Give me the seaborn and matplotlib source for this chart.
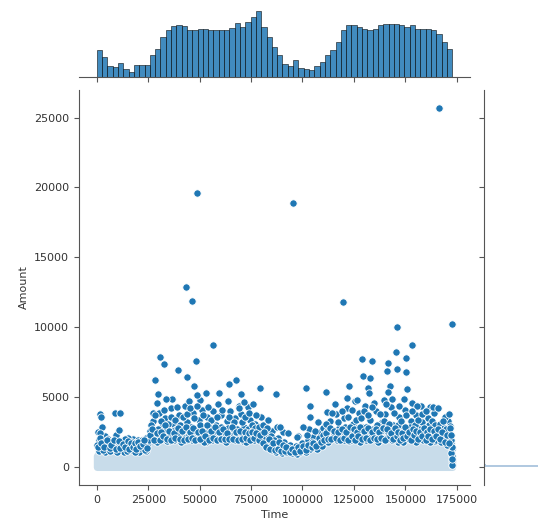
import pandas as pd
import matplotlib
matplotlib.use("Agg")
import matplotlib.pyplot as plt
import seaborn as sns

# =====================================================
# DATA
# =====================================================

# marginal histogram of Time: 67 bins between 0 and 172792 s
time_counts = [
    3280, 2400, 1280, 1200, 1720, 1000, 600, 1400, 1400, 1480,
    2600, 3400, 4800, 5680, 6080, 6240, 6160, 5680, 5680, 5800,
    5800, 5680, 5600, 5600, 5680, 5840, 6480, 6000, 6600, 7200,
    7880, 6000, 4800, 3600, 2600, 1600, 1320, 2000, 1080, 1000,
    880, 1280, 1800, 2600, 3200, 4200, 5600, 6280, 6200, 6000,
    5800, 5600, 5800, 6200, 6320, 6320, 6320, 6200, 6000, 6200,
    5800, 5800, 5800, 5680, 5200, 4200, 3400,
]
time_max = 172792

# marginal histogram of Amount (almost everything in the first bin)
amount_bin_left = [0, 120, 240, 360]
amount_counts = [27000, 900, 500, 300]

# dense lower part of the cloud (upper edge of the packed markers)
base_time = [0, 1500, 5000, 10000, 15000, 20000, 24000, 27000, 30000,
             40000, 50000, 60000, 70000, 78000, 82000, 86000, 92000,
             98000, 104000, 108000, 112000, 120000, 130000, 140000,
             150000, 160000, 166000, 170000, 172000, 172792]
base_amount = [800, 1100, 900, 1000, 900, 850, 1050, 1400, 1600,
               1650, 1700, 1650, 1600, 1550, 1250, 1000, 850,
               800, 1000, 1250, 1550, 1600, 1650, 1600,
               1650, 1550, 1450, 1250, 1000, 500]
# looser zone on top of it, where single markers start to show
loose_amount = [1300, 1700, 1400, 1500, 1400, 1350, 1600, 2000, 2300,
                2400, 2450, 2400, 2300, 2200, 1800, 1500, 1300,
                1250, 1500, 1800, 2200, 2300, 2400, 2350,
                2400, 2300, 2100, 1800, 1500, 900]

# individual transactions (time in s, amount)
point_time = [
    # 0 - 25000
    1200, 2500, 3800, 5200, 6100, 7400, 8900, 10300, 11800, 12600,
    14100, 15500, 16900, 18200, 19700, 21300, 22800, 24100, 600, 9500,
    17800, 4200, 13300, 20500, 23700,
    1500, 1900, 2400, 1500, 8800, 11200, 10700, 15100, 19900, 27200,
    300, 900, 1700, 2900, 3300, 4600, 5700, 6600, 7900, 8300,
    9900, 11000, 12200, 13800, 14700, 16200, 17300, 18800, 19300, 20900,
    21900, 23300, 24600,
    # 25000 - 80000
    26000, 27500, 28800, 30200, 31500, 33000, 34400, 35900, 37100, 38600,
    40000, 41300, 42700, 44100, 45500, 46800, 48200, 49600, 51000, 52300,
    53700, 55100, 56500, 57800, 59200, 60600, 62000, 63300, 64700, 66100,
    67400, 68800, 70200, 71500, 72900, 74300, 75700, 77000, 78400, 79600,
    27000, 30800, 34900, 39200, 43500, 47700, 52900, 57300, 61400, 65800,
    70900, 75100, 29500, 36800, 44800, 50300, 58700, 63900, 69300, 73600,
    30600, 32600, 48100, 39400, 43800, 28200, 67600, 64200, 79200, 47200,
    48600, 29700, 33500, 59300, 53000, 70000, 71500, 75800, 56400, 43300,
    46200, 48600,
    25400, 26400, 27800, 28300, 29100, 29900, 31000, 31900, 32500, 33400,
    33900, 34800, 35400, 36300, 36900, 37700, 38200, 39000, 39700, 40600,
    41000, 41800, 42300, 43000, 43900, 44600, 45100, 45900, 46400, 47300,
    48000, 48900, 49300, 50100, 50700, 51600, 52000, 53100, 54200, 54700,
    55600, 56100, 57000, 58300, 59700, 60200, 61000, 61800, 62600, 63700,
    64300, 65200, 66600, 67100, 68100, 69000, 69700, 70600, 71200, 72100,
    72500, 73300, 74000, 74800, 75300, 76200, 76700, 77600, 78100, 79100,
    79900,
    # 80000 - 110000
    81000, 82500, 84000, 85400, 86900, 88300, 89700, 91200, 92600, 94000,
    95500, 96900, 98300, 99800, 101200, 102600, 104000, 105500, 106900, 108300,
    109700, 83200, 87600, 90500, 97600, 103300, 107500,
    87000, 101600, 111300, 89000, 92900, 97200, 100100, 105000, 108400, 103500,
    103500, 111800, 95300,
    80300, 81700, 82900, 83700, 84600, 85000, 86100, 87300, 88900, 90000,
    90900, 91800, 93300, 94700, 96200, 97200, 99000, 100500, 101800, 102200,
    103700, 104800, 105900, 106300, 107100, 108800, 109300, 110200,
    # 110000 - 165000
    112000, 113400, 114800, 116200, 117600, 119000, 120400, 121800, 123200, 124600,
    126000, 127400, 128800, 130200, 131600, 133000, 134400, 135800, 137200, 138600,
    140000, 141400, 142800, 144200, 145600, 147000, 148400, 149800, 151200, 152600,
    154000, 155400, 156800, 158200, 159600, 161000, 162400, 163800,
    113000, 118000, 122700, 127000, 132300, 136800, 141900, 146500, 150700, 155800,
    160300, 164200,
    115600, 125300, 134900, 139400, 143500, 153300, 157700, 161800,
    122500, 128800, 133700, 129300, 132700, 145400, 150200, 145800, 150200, 141000,
    141500, 153100, 150700, 155600, 131700, 132200, 121500, 126400, 142400, 141500,
    149200, 119600, 145800, 166300,
    110700, 111600, 112600, 113800, 114300, 115100, 116700, 117100, 118500, 119400,
    120000, 120900, 121300, 122200, 123700, 124100, 125000, 125800, 126700, 127900,
    128300, 129200, 129800, 130700, 131100, 132000, 133500, 134000, 135200, 136100,
    136500, 137700, 138100, 139000, 139800, 140500, 141000, 142000, 143300, 143900,
    144700, 145200, 146200, 146800, 147600, 148000, 148900, 149400, 150300, 151700,
    152200, 153000, 153700, 154500, 155000, 156300, 157200, 157900, 158700, 159100,
    160000, 160700, 161400, 162000, 162900, 163400, 164600, 165100,
    # 165000 - end
    165500, 166700, 167800, 168900, 170000, 171100, 172000, 172500, 172700, 172600,
    172750, 172400, 170700, 169400,
    163300, 165800, 171100, 171600, 172600, 172700, 172600,
    166200, 167300, 168300, 169000, 169800, 170400, 171500, 171900, 172300, 172650,
]
point_amount = [
    # 0 - 25000
    1900, 1500, 2200, 1300, 1750, 1200, 1600, 1450, 1250, 1900,
    1300, 1650, 1200, 1450, 1250, 1700, 1400, 2100, 2500, 2300,
    2000, 1100, 1050, 1100, 1150,
    3800, 3600, 2900, 2400, 3900, 3900, 2650, 2100, 1900, 3900,
    1600, 1150, 2100, 1250, 1800, 1550, 2000, 1150, 1850, 1350,
    1100, 1700, 1500, 2000, 1150, 1550, 1800, 1100, 1650, 1350,
    1950, 1250, 1550,
    # 25000 - 80000
    2600, 3300, 2200, 3900, 2900, 3500, 2400, 4200, 3100, 2700,
    3700, 2300, 4400, 3200, 2600, 3900, 2100, 3400, 4100, 2800,
    3600, 2300, 4000, 3000, 2500, 3700, 2200, 3300, 4000, 2700,
    3500, 2300, 3800, 2900, 2400, 3400, 2100, 3100, 2600, 3600,
    2000, 2150, 1850, 2050, 1950, 2200, 1800, 2100, 1900, 2250,
    1850, 2050, 4600, 4900, 4700, 4800, 4500, 4700, 4400, 4300,
    7900, 7400, 7600, 6950, 6450, 6200, 6200, 5950, 5650, 5800,
    5150, 5200, 4900, 5300, 5300, 5200, 4650, 4500, 8700, 12900,
    11900, 19600,
    1900, 3000, 2500, 3700, 1800, 2700, 3300, 2000, 4100, 2700,
    1850, 3100, 2200, 3600, 2600, 1900, 3400, 4300, 2400, 3000,
    1800, 3600, 2700, 2100, 3800, 2300, 4200, 2900, 1900, 3500,
    2600, 4400, 2000, 3000, 2300, 3700, 1800, 2500, 4300, 2900,
    3400, 1900, 2600, 3600, 2000, 2900, 4100, 2500, 1800, 2800,
    3600, 2100, 3200, 1900, 2700, 4200, 2000, 3200, 2200, 3600,
    1800, 2700, 3900, 2300, 3000, 1900, 2800, 3700, 2100, 2900,
    2000,
    # 80000 - 110000
    3000, 2300, 1800, 2600, 1500, 2100, 1300, 1800, 1200, 1600,
    1100, 1500, 1250, 1700, 1350, 1900, 1500, 2200, 1700, 2500,
    2000, 3400, 2900, 2500, 2200, 2700, 3200,
    5200, 5650, 5400, 2850, 2450, 2150, 2850, 2150, 1700, 4350,
    3600, 3950, 18900,
    2100, 1600, 2800, 1400, 2200, 1200, 1900, 1100, 1500, 1000,
    1400, 1050, 1350, 1000, 1200, 950, 1050, 1300, 1100, 2300,
    1300, 1800, 1400, 2600, 1300, 1900, 1500, 2800,
    # 110000 - 165000
    2600, 3300, 2100, 3800, 2800, 2300, 3500, 4200, 2600, 3100,
    2200, 3900, 2900, 4400, 2400, 3400, 2700, 4000, 2200, 3200,
    3800, 2500, 4300, 3000, 2300, 3600, 2800, 4100, 2400, 3300,
    2100, 3700, 2700, 3200, 2300, 3500, 2600, 3900,
    1950, 2100, 1850, 2000, 2200, 1900, 2050, 1800, 2150, 1950,
    2000, 1850,
    4500, 4700, 4600, 4800, 4900, 4600, 4400, 4300,
    5800, 7700, 7600, 6500, 6400, 8200, 7800, 7000, 6800, 6900,
    7450, 8700, 5600, 4400, 5650, 5300, 4950, 4800, 5800, 5400,
    4900, 11800, 10000, 25691,
    2200, 3100, 1800, 2700, 3900, 2400, 1900, 3200, 2600, 4000,
    1900, 2900, 2100, 3600, 1900, 4100, 2400, 3400, 2800, 1800,
    3500, 2300, 4000, 2900, 1900, 3700, 2200, 4300, 2500, 3000,
    1800, 3800, 2600, 2000, 3300, 4500, 2100, 3100, 1900, 2600,
    3900, 2000, 3000, 4400, 2100, 3300, 1800, 2600, 3700, 2000,
    2900, 4000, 2500, 3000, 1800, 3400, 2200, 3800, 1900, 2700,
    4000, 2100, 3000, 1800, 3300, 2300, 3000, 1900,
    # 165000 - end
    2500, 3100, 2200, 2800, 1900, 2500, 1700, 1300, 800, 400,
    150, 1000, 3300, 3600,
    4300, 4200, 3800, 2950, 1430, 150, 10200,
    2300, 1800, 3300, 2100, 2700, 1600, 2100, 2800, 1900, 600,
]

# packed transactions just above the dense base
cloud_time = [
    700, 2100, 3500, 4900, 6300, 7100, 8600, 9200, 10600, 11500,
    12900, 13500, 15000, 15800, 16600, 17600, 18500, 19000, 20200, 21000,
    22300, 23000, 24300,
    25800, 26900, 28000, 29400, 30500, 31200, 32200, 33200, 34100, 35100,
    36100, 37300, 38000, 39500, 40300, 41500, 42500, 43300, 44300, 45300,
    46100, 47000, 47900, 49000, 50000, 51300, 52500, 53400, 54400, 55300,
    56300, 57500, 58500, 59500, 60400, 61200, 62300, 63500, 64500, 65500,
    66300, 67700, 68500, 69500, 70400, 71900, 72700, 73800, 74600, 75500,
    76500, 77300, 78700, 79400,
    80700, 81400, 82200, 83500, 84300, 85700, 86500, 87900, 88600, 89400,
    90300, 91500, 92200, 93700, 95100, 96600, 97900, 98800, 100200, 101500,
    102900, 104400, 105200, 106600, 107800, 109000, 110000,
    110400, 111300, 112300, 113200, 114100, 115300, 116400, 117300, 118200, 119200,
    120200, 121100, 122000, 122900, 123900, 124900, 125600, 126400, 127200, 128000,
    129000, 130000, 130900, 131800, 132700, 133700, 134700, 135500, 136300, 137400,
    138400, 139200, 140200, 141200, 142300, 143100, 144000, 145000, 145900, 146600,
    147400, 148200, 149100, 150000, 151000, 151900, 152900, 153500, 154300, 155200,
    156100, 157000, 158000, 158900, 159800, 160500, 161200, 162200, 163100, 164000,
    164900,
    165800, 166900, 168000, 169200, 170200, 171300, 172100,
]
cloud_amount = [
    1400, 1750, 1450, 1900, 1350, 1600, 1950, 1300, 1850, 1350,
    1650, 1400, 1850, 1300, 1700, 1400, 1750, 1300, 1800, 1500,
    1650, 1900, 1350,
    2300, 2700, 1950, 2400, 1900, 2500, 2200, 3000, 2000, 2600,
    1900, 2400, 2100, 2800, 2000, 2600, 1900, 2900, 2000, 2500,
    2100, 2800, 1900, 2500, 2000, 2600, 2200, 3000, 1900, 2600,
    2100, 2900, 1900, 2500, 2000, 2700, 2000, 2400, 2000, 2900,
    2000, 2500, 1900, 2600, 2000, 2500, 2100, 2400, 1900, 2500,
    2100, 2400, 1900, 2300,
    1700, 2500, 1400, 2000, 1300, 1700, 1250, 1300, 1800, 1150,
    1600, 1150, 1450, 1050, 1300, 1100, 1400, 1150, 1500, 1200,
    1600, 1400, 1700, 1500, 2100, 1800, 2300,
    1900, 2400, 2000, 2800, 2000, 2600, 2100, 2500, 1900, 2700,
    2100, 2500, 1900, 2900, 2200, 2700, 1900, 2500, 2200, 2900,
    2000, 2600, 2100, 2800, 1900, 2500, 2100, 2700, 2000, 2500,
    2100, 2800, 1900, 2700, 2200, 2400, 2000, 2800, 2200, 2500,
    1900, 2400, 2100, 2900, 2200, 2500, 1900, 2700, 2300, 2600,
    2000, 2500, 2200, 2800, 1900, 2500, 2200, 2700, 2000, 2600,
    2200,
    2700, 2000, 2500, 1800, 2300, 1700, 2300,
]

# =====================================================
# PLOT
# =====================================================

df = pd.DataFrame({
    "Time": point_time + cloud_time,
    "Amount": point_amount + cloud_amount,
})

g = sns.JointGrid(data=df, x="Time", y="Amount", height=6)
g.figure.set_size_inches(5.38, 5.24)

ax = g.ax_joint
ax.fill_between(base_time, base_amount, loose_amount, color="#8db8da",
                lw=0, zorder=1)
ax.fill_between(base_time, 0, base_amount, color="#c8dcea",
                edgecolor="#c8dcea", lw=5, zorder=1)
sns.scatterplot(data=df, x="Time", y="Amount", ax=ax, s=28,
                color="#1f77b4", linewidth=0.6, zorder=2)

# top marginal
time_width = time_max / len(time_counts)
time_hist = pd.DataFrame({
    "Time": [time_width * (i + 0.5) for i in range(len(time_counts))],
    "count": time_counts,
})
sns.histplot(data=time_hist, x="Time", weights="count",
             binwidth=time_width, binrange=(0, time_max),
             ax=g.ax_marg_x, color="#1f77b4", alpha=0.85)

# right marginal
amount_hist = pd.DataFrame({
    "Amount": [a + 60 for a in amount_bin_left],
    "count": amount_counts,
})
sns.histplot(data=amount_hist, y="Amount", weights="count",
             binwidth=120, binrange=(0, amount_bin_left[-1] + 120),
             ax=g.ax_marg_y, color="#a9c4dd", alpha=0.9, lw=0)

g.set_axis_labels("Time", "Amount", fontsize=8, color="#333333")
for a in (ax, g.ax_marg_x, g.ax_marg_y):
    a.tick_params(labelsize=8, labelcolor="#333333", color="#555555")
    for sp in a.spines.values():
        sp.set_color("#555555")

# layout in pixels of a 538x524 canvas
W, H = 538, 524
def box(x0, y0, x1, y1):
    return [x0 / W, 1 - y1 / H, (x1 - x0) / W, (y1 - y0) / H]

ax.set_position(box(79, 90, 470, 485))
g.ax_marg_x.set_position(box(79, 8, 470, 77))
g.ax_marg_y.set_position(box(484, 90, 553, 485))

plt.savefig("out.png", dpi=100)
